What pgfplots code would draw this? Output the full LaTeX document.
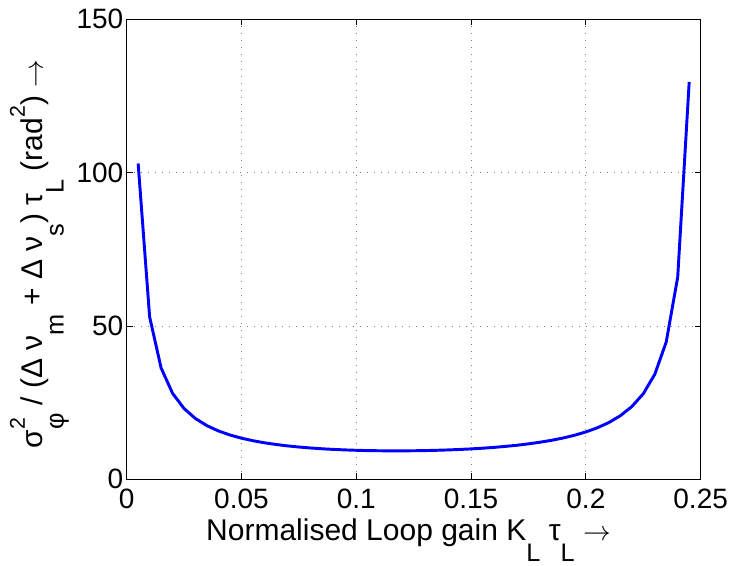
\documentclass[border=0pt]{standalone}
\usepackage{fontspec}
\setmainfont{Liberation Sans}
\usepackage{pgfplots}
\pgfplotsset{compat=1.18}
\newcommand\sub[1]{\raisebox{-15.5pt}{\fontsize{19}{21}\selectfont #1}}
\newcommand\sups[1]{\raisebox{13.5pt}{\fontsize{16}{18}\selectfont #1}}
\begin{document}
\begin{tikzpicture}
\begin{axis}[
  at={(0,0)}, anchor=south west,
  scale only axis, width=430.5pt, height=345pt,
  xmin=0, xmax=0.25, ymin=0, ymax=150,
  xtick={0,0.05,0.1,0.15,0.2,0.25},
  xticklabels={0,0.05,0.1,0.15,0.2,0.25},
  ytick={0,50,100,150},
  scaled x ticks=false,
  tick align=inside, major tick length=4.5pt,
  tick style={black, line width=0.6pt},
  axis line style={line width=0.75pt},
  grid=major, grid style={gray, line width=0.6pt, dash pattern=on 0.7pt off 4.6pt},
  ticklabel style={font=\fontsize{21}{24}\selectfont},
  yticklabel style={xshift=1pt},
  xticklabel style={yshift=-3.5pt},
  label style={font=\fontsize{22.5}{26}\selectfont},
  /pgf/number format/assume math mode=true,
  xlabel={Normalised Loop gain K\sub{L} τ\sub{L} $\rightarrow$},
  ylabel={σ\rlap{\sups{2}}\sub{φ} / (Δ ν\sub{m} + Δ ν\sub{s}) τ\sub{L} (rad\sups{2}) $\rightarrow$},
  xlabel style={at={(axis description cs:0.491,-0.1333)}, anchor=base},
  ylabel style={at={(axis description cs:-0.1459,0.922)}, anchor=base east, rotate=0},
]
\addplot[blue, line width=2.2pt] coordinates {
(0.005,103.0) (0.010,52.96) (0.015,36.32) (0.020,28.03) (0.025,23.09)
(0.030,19.81) (0.035,17.49) (0.040,15.77) (0.045,14.46) (0.050,13.42)
(0.055,12.59) (0.060,11.92) (0.065,11.37) (0.070,10.91) (0.075,10.54)
(0.080,10.23) (0.085,9.97) (0.090,9.76) (0.095,9.60) (0.100,9.47)
(0.105,9.38) (0.110,9.32) (0.115,9.29) (0.120,9.29) (0.125,9.32)
(0.130,9.38) (0.135,9.47) (0.140,9.59) (0.145,9.74) (0.150,9.93)
(0.155,10.15) (0.160,10.42) (0.165,10.75) (0.170,11.12) (0.175,11.57)
(0.180,12.10) (0.185,12.72) (0.190,13.47) (0.195,14.36) (0.200,15.46)
(0.205,16.81) (0.210,18.52) (0.215,20.74) (0.220,23.72) (0.225,27.91)
(0.230,34.23) (0.235,44.79) (0.240,65.97) (0.245,129.6)
};
\end{axis}
\pgfresetboundingbox
\path[use as bounding box] (-95pt,-64.3pt) rectangle (455.5pt,359.5pt);
\end{tikzpicture}
\end{document}
